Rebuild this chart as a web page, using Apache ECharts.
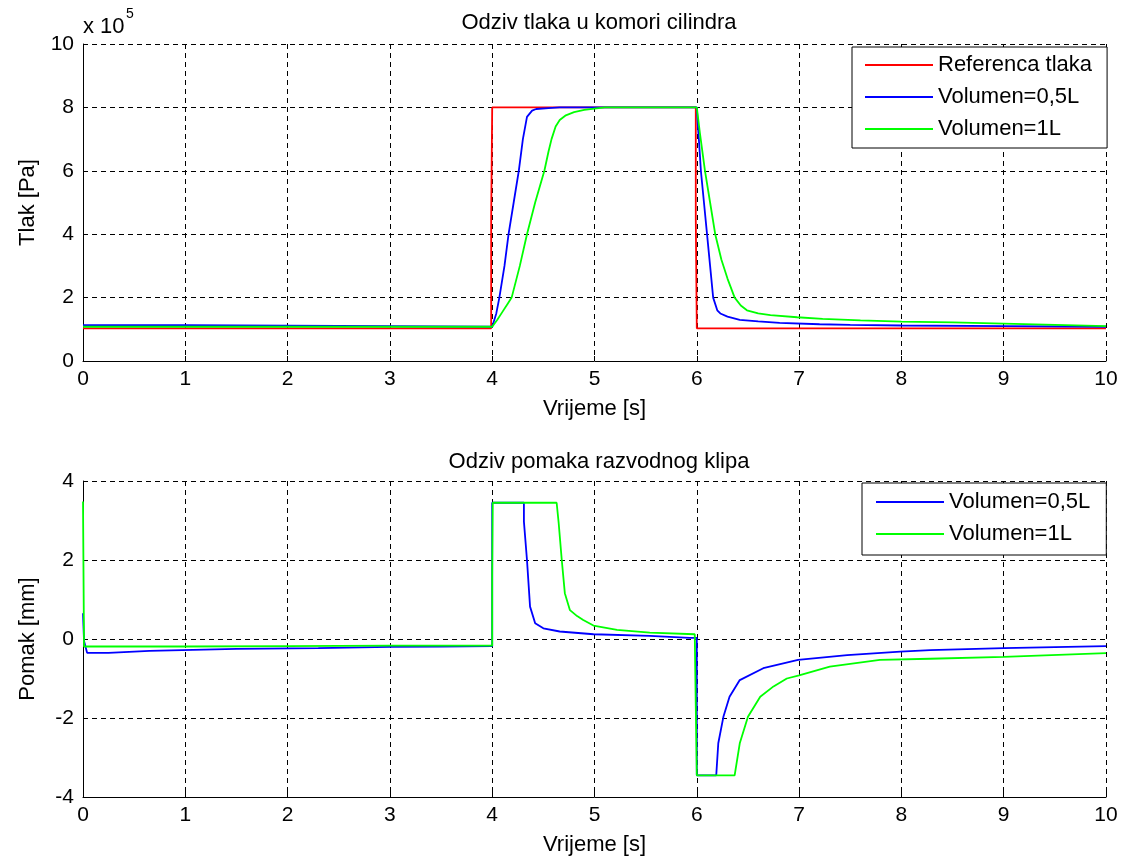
<!DOCTYPE html>
<html>
<head>
<meta charset="utf-8">
<script src="https://cdn.jsdelivr.net/npm/echarts@6/dist/echarts.min.js"></script>
<style>
html,body{margin:0;padding:0;background:#fff;}
#c{width:1123px;height:857px;}
</style>
</head>
<body>
<div id="c"></div>
<script>
// ---- Data: pressure (x 10^5 Pa) ----
var tRef = [0, 3.99, 3.99, 4.0, 4.0, 5.99, 5.99, 6.0, 6.0, 10];
var pRef = [1.03, 1.03, 4.5, 4.5, 8.0, 8.0, 4.5, 4.5, 1.03, 1.03];

var tP05 = [0, 1, 1, 4.0, 4.04, 4.07, 4.12, 4.16, 4.21, 4.26, 4.30, 4.34, 4.39, 4.43, 4.55, 4.66, 6.0, 6.01, 6.02, 6.04, 6.07, 6.10, 6.13, 6.16, 6.20, 6.23, 6.30, 6.42, 6.60, 6.81, 7.2, 7.5, 8, 9, 10];
var pP05 = [1.13, 1.13, 1.08, 1.08, 1.5, 2.0, 3.0, 4.0, 5.0, 6.0, 7.0, 7.7, 7.9, 7.95, 7.98, 8.0, 8.0, 7.45, 7.0, 6.0, 5.0, 4.0, 3.0, 2.0, 1.6, 1.5, 1.4, 1.3, 1.25, 1.2, 1.16, 1.14, 1.12, 1.1, 1.08];

var tP1 = [0, 4.0, 4.05, 4.10, 4.15, 4.19, 4.27, 4.34, 4.42, 4.51, 4.55, 4.58, 4.62, 4.66, 4.72, 4.80, 4.9, 5.1, 6.0, 6.03, 6.08, 6.13, 6.18, 6.24, 6.30, 6.37, 6.43, 6.49, 6.6, 6.72, 6.98, 7.23, 7.6, 8, 8.5, 9, 9.5, 10];
var pP1 = [1.08, 1.08, 1.3, 1.55, 1.8, 2.0, 3.0, 4.0, 5.0, 6.0, 6.6, 7.0, 7.4, 7.6, 7.75, 7.85, 7.92, 8.0, 8.0, 7.2, 6.0, 5.0, 4.0, 3.2, 2.6, 2.0, 1.75, 1.6, 1.5, 1.45, 1.38, 1.33, 1.28, 1.24, 1.22, 1.18, 1.14, 1.1];

// ---- Data: spool displacement (mm) ----
var tX05 = [0, 0.005, 0.01, 0.04, 0.25, 0.25, 0.65, 0.65, 1.5, 2.3, 3.0, 3.5, 4.0, 4.0, 4.31, 4.31, 4.34, 4.37, 4.42, 4.5, 4.66, 4.99, 5.54, 5.93, 6.0, 6.0, 6.19, 6.21, 6.26, 6.32, 6.42, 6.65, 6.99, 7.47, 7.99, 8.28, 9, 10];
var xX05 = [0.65, 0.65, -0.05, -0.35, -0.35, -0.3, -0.3, -0.27, -0.25, -0.23, -0.2, -0.19, -0.18, 3.45, 3.45, 2.97, 2.0, 0.82, 0.4, 0.27, 0.19, 0.12, 0.08, 0.03, 0.03, -3.45, -3.45, -2.64, -1.97, -1.46, -1.04, -0.74, -0.53, -0.41, -0.32, -0.28, -0.23, -0.18];

var tX1 = [0, 0.005, 0.01, 1, 2, 3, 4.0, 4.0, 4.005, 4.63, 4.65, 4.68, 4.71, 4.76, 4.83, 4.89, 4.99, 5.22, 5.54, 5.98, 5.99, 5.99, 6.0, 6.37, 6.42, 6.50, 6.62, 6.75, 6.88, 7.0, 7.30, 7.79, 8.28, 9, 10];
var xX1 = [3.48, 3.48, -0.19, -0.19, -0.18, -0.17, -0.17, 1.62, 3.45, 3.45, 2.93, 2.0, 1.16, 0.73, 0.58, 0.48, 0.34, 0.23, 0.16, 0.12, 0.12, -1.71, -3.45, -3.45, -2.64, -1.97, -1.46, -1.2, -1.0, -0.92, -0.70, -0.53, -0.5, -0.45, -0.36];

function zip(t, v) { return t.map(function (x, i) { return [x, v[i]]; }); }

var FONT = 'Liberation Sans, Arial, sans-serif';
var gridLine = { show: true, lineStyle: { color: '#000', type: [5, 4], width: 1 } };
var tick = { show: true, inside: true, length: 5, lineStyle: { color: '#000' } };
var axLine = { show: true, onZero: false, lineStyle: { color: '#000', width: 1 } };
var lbl = { color: '#000', fontSize: 21, fontFamily: FONT };

function xAx(gi) {
  return {
    type: 'value', gridIndex: gi, min: 0, max: 10, interval: 1, position: 'bottom',
    axisLine: axLine, axisTick: tick,
    axisLabel: Object.assign({ margin: 8 }, lbl),
    splitLine: gridLine,
    name: 'Vrijeme [s]', nameLocation: 'middle', nameGap: 37,
    nameTextStyle: { color: '#000', fontSize: 22, fontFamily: FONT }
  };
}
function yAx(gi, min, max, name) {
  return {
    type: 'value', gridIndex: gi, min: min, max: max, interval: 2, position: 'left',
    axisLine: axLine, axisTick: tick,
    axisLabel: Object.assign({ margin: 9 }, lbl),
    splitLine: gridLine,
    name: name, nameLocation: 'middle', nameGap: 44,
    nameTextStyle: { color: '#000', fontSize: 22, fontFamily: FONT }
  };
}
function ser(name, data, color, xi, yi) {
  return {
    name: name, type: 'line', data: data, xAxisIndex: xi, yAxisIndex: yi,
    showSymbol: false, symbol: 'none', animation: false,
    lineStyle: { color: color, width: 1.8 }, itemStyle: { color: color }
  };
}
function leg(names, left, top, padding) {
  return {
    data: names, orient: 'vertical', left: left, top: top,
    padding: padding, itemGap: 10, itemWidth: 68, itemHeight: 2,
    icon: 'rect',
    borderColor: '#000', borderWidth: 1, backgroundColor: '#fff', selectedMode: false,
    textStyle: { color: '#000', fontSize: 22, fontFamily: FONT, lineHeight: 22 }
  };
}

var chart = echarts.init(document.getElementById('c'));
chart.setOption({
  backgroundColor: '#fff',
  animation: false,
  title: [
    { text: 'Odziv tlaka u komori cilindra', left: 594, top: 7, textAlign: 'center',
      textStyle: { color: '#000', fontSize: 22, fontWeight: 'normal', fontFamily: FONT } },
    { text: 'Odziv pomaka razvodnog klipa', left: 594, top: 446, textAlign: 'center',
      textStyle: { color: '#000', fontSize: 22, fontWeight: 'normal', fontFamily: FONT } }
  ],
  grid: [
    { left: 83, top: 44, width: 1023, height: 317 },
    { left: 83, top: 481, width: 1023, height: 316 }
  ],
  xAxis: [xAx(0), xAx(1)],
  yAxis: [yAx(0, 0, 10, 'Tlak [Pa]'), yAx(1, -4, 4, 'Pomak [mm]')],
  legend: [
    leg(['Referenca tlaka', 'Volumen=0,5L', 'Volumen=1L'], 852, 47, [7, 15, 8, 13]),
    leg(['Volumen=0,5L', 'Volumen=1L'], 862, 483, [8, 16, 10, 14])
  ],
  graphic: [
    { type: 'text', left: 83, top: 16, style: { text: 'x 10', fill: '#000', font: '22px ' + FONT } },
    { type: 'text', left: 126, top: 7, style: { text: '5', fill: '#000', font: '14px ' + FONT } }
  ],
  series: [
    ser('Referenca tlaka', zip(tRef, pRef), '#ff0000', 0, 0),
    ser('Volumen=0,5L', zip(tP05, pP05), '#0000ff', 0, 0),
    ser('Volumen=1L', zip(tP1, pP1), '#00ff00', 0, 0),
    ser('Volumen=0,5L', zip(tX05, xX05), '#0000ff', 1, 1),
    ser('Volumen=1L', zip(tX1, xX1), '#00ff00', 1, 1)
  ]
});
</script>
</body>
</html>
